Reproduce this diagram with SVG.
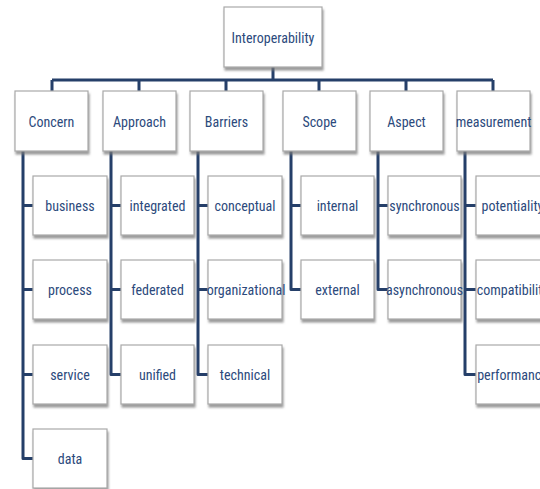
<svg xmlns="http://www.w3.org/2000/svg" width="540" height="489" viewBox="0 0 540 489">
<defs>
<filter id="sh" x="-10%" y="-10%" width="130%" height="140%">
<feDropShadow dx="1" dy="3" stdDeviation="1.3" flood-color="#7a7a7a" flood-opacity="0.75"/>
</filter>
<style>
.b{fill:#ffffff;stroke:#a9a9a9;stroke-width:1.2;filter:url(#sh)}
.t{font-family:"Liberation Sans Narrow","Roboto Condensed","Liberation Sans",Arial,sans-serif;font-size:14px;fill:#2c4a7c;text-anchor:middle;dominant-baseline:central}
.c{fill:none;stroke:#253f69;stroke-width:3;stroke-linejoin:round}
</style>
</defs>
<rect width="540" height="489" fill="#ffffff"/>
<g id="connectors">
<path class="c" d="M273,67 V80 M52,80 H493 M52,80 V91 M139,80 V91 M226,80 V91 M319,80 V91 M406,80 V91 M493,80 V91"/>
<path class="c" d="M23,151 V458.5 H33 M23,205.5 H33 M23,289.5 H33 M23,374.5 H33"/>
<path class="c" d="M111,151 V374.5 H121 M111,205.5 H121 M111,289.5 H121"/>
<path class="c" d="M198,151 V374.5 H208 M198,205.5 H208 M198,289.5 H208"/>
<path class="c" d="M291,151 V289.5 H301 M291,205.5 H301"/>
<path class="c" d="M378,151 V289.5 H388 M378,205.5 H388"/>
<path class="c" d="M465,151 V374.5 H476 M465,205.5 H476 M465,289.5 H476"/>
</g>
<g id="n-root"><rect class="b" x="224" y="7" width="98" height="60"/><text class="t" x="273" y="38">Interoperability</text></g>
<g id="n-concern"><rect class="b" x="15" y="91" width="73" height="60"/><text class="t" x="51.5" y="122">Concern</text></g>
<g id="n-approach"><rect class="b" x="103" y="91" width="73" height="60"/><text class="t" x="139.5" y="122">Approach</text></g>
<g id="n-barriers"><rect class="b" x="190" y="91" width="73" height="60"/><text class="t" x="226.5" y="122">Barriers</text></g>
<g id="n-scope"><rect class="b" x="283" y="91" width="73" height="60"/><text class="t" x="319.5" y="122">Scope</text></g>
<g id="n-aspect"><rect class="b" x="370" y="91" width="73" height="60"/><text class="t" x="406.5" y="122">Aspect</text></g>
<g id="n-measurement"><rect class="b" x="457" y="91" width="73" height="60"/><text class="t" x="493.5" y="122">measurement</text></g>

<g id="n-business"><rect class="b" x="33" y="176" width="74" height="59"/><text class="t" x="70" y="206">business</text></g>
<g id="n-process"><rect class="b" x="33" y="260" width="74" height="59"/><text class="t" x="70" y="290">process</text></g>
<g id="n-service"><rect class="b" x="33" y="345" width="74" height="59"/><text class="t" x="70" y="375">service</text></g>
<g id="n-data"><rect class="b" x="33" y="429" width="74" height="59"/><text class="t" x="70" y="459">data</text></g>

<g id="n-integrated"><rect class="b" x="121" y="176" width="73" height="59"/><text class="t" x="157.5" y="206">integrated</text></g>
<g id="n-federated"><rect class="b" x="121" y="260" width="73" height="59"/><text class="t" x="157.5" y="290">federated</text></g>
<g id="n-unified"><rect class="b" x="121" y="345" width="73" height="59"/><text class="t" x="157.5" y="375">unified</text></g>

<g id="n-conceptual"><rect class="b" x="208" y="176" width="74" height="59"/><text class="t" x="245" y="206">conceptual</text></g>
<g id="n-organizational"><rect class="b" x="208" y="260" width="74" height="59"/><text class="t" x="246" y="290">organizational</text></g>
<g id="n-technical"><rect class="b" x="208" y="345" width="74" height="59"/><text class="t" x="245" y="375">technical</text></g>

<g id="n-internal"><rect class="b" x="301" y="176" width="73" height="59"/><text class="t" x="337.5" y="206">internal</text></g>
<g id="n-external"><rect class="b" x="301" y="260" width="73" height="59"/><text class="t" x="337.5" y="290">external</text></g>

<g id="n-synchronous"><rect class="b" x="388" y="176" width="73" height="59"/><text class="t" x="424.5" y="206">synchronous</text></g>
<g id="n-asynchronous"><rect class="b" x="388" y="260" width="73" height="59"/><text class="t" x="424.5" y="290">asynchronous</text></g>

<g id="n-potentiality"><rect class="b" x="476" y="176" width="73" height="59"/><text class="t" x="512.5" y="206">potentiality</text></g>
<g id="n-compatibility"><rect class="b" x="476" y="260" width="73" height="59"/><text class="t" x="512.5" y="290">compatibility</text></g>
<g id="n-performance"><rect class="b" x="476" y="345" width="73" height="59"/><text class="t" x="512.5" y="375">performance</text></g>
</svg>
